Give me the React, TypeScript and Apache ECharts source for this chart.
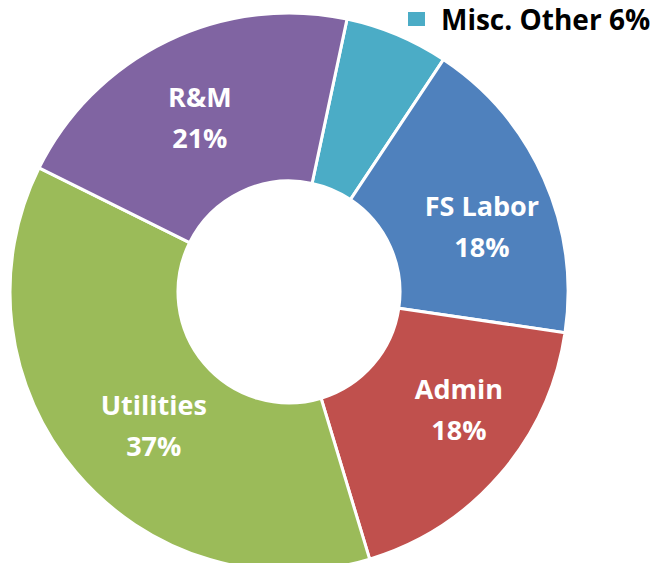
import React, { useEffect, useRef } from "react";
import * as echarts from "echarts";

const categories = ["Misc. Other", "FS Labor", "Admin", "Utilities", "R&M"];
const values = [6, 18, 18, 37, 21];
const colors = ["#4BACC6", "#4F81BD", "#C0504D", "#9BBB59", "#8064A2"];
const legendItems = ["Misc. Other"];
const labelOffsets: [number, number][] = [[0, 0], [12, 15], [20, -12], [16, 5], [-3, 3]];

export default function App() {
  const ref = useRef<HTMLDivElement>(null);
  useEffect(() => {
    if (!ref.current) return;
    const chart = echarts.init(ref.current, null, { renderer: "svg" });
    const total = values.reduce((a, b) => a + b, 0);
    chart.setOption({
      animation: false,
      backgroundColor: "#ffffff",
      legend: {
        data: legendItems,
        left: 401,
        top: 0,
        itemWidth: 19,
        itemHeight: 16,
        itemGap: 10,
        icon: "rect",
        formatter: (name: string) => {
          const i = categories.indexOf(name);
          return name + " " + Math.round((values[i] / total) * 100) + "%";
        },
        textStyle: { fontFamily: "Open Sans", fontWeight: "bold", fontSize: 28, color: "#000", padding: [0, 0, 0, 10] },
      },
      series: [
        {
          type: "pie",
          center: [289, 292],
          radius: [111, 279],
          startAngle: 78,
          clockwise: true,
          avoidLabelOverlap: false,
          itemStyle: { borderColor: "#fff", borderWidth: 3 },
          label: {
            show: true,
            position: "inside",
            color: "#fff",
            fontFamily: "Open Sans",
            fontWeight: "bold",
            fontSize: 27,
            lineHeight: 41,
            formatter: (p: any) => p.name + "\n" + Math.round(p.percent) + "%",
          },
          labelLine: { show: false },
          data: categories.map((c, i) => ({
            name: c,
            value: values[i],
            itemStyle: { color: colors[i] },
            label: i === 0 ? { show: false } : { offset: labelOffsets[i] },
          })),
        },
      ],
    });
    return () => chart.dispose();
  }, []);
  return <div ref={ref} style={{ position: "fixed", left: 0, top: 0, width: 654, height: 563 }} />;
}
